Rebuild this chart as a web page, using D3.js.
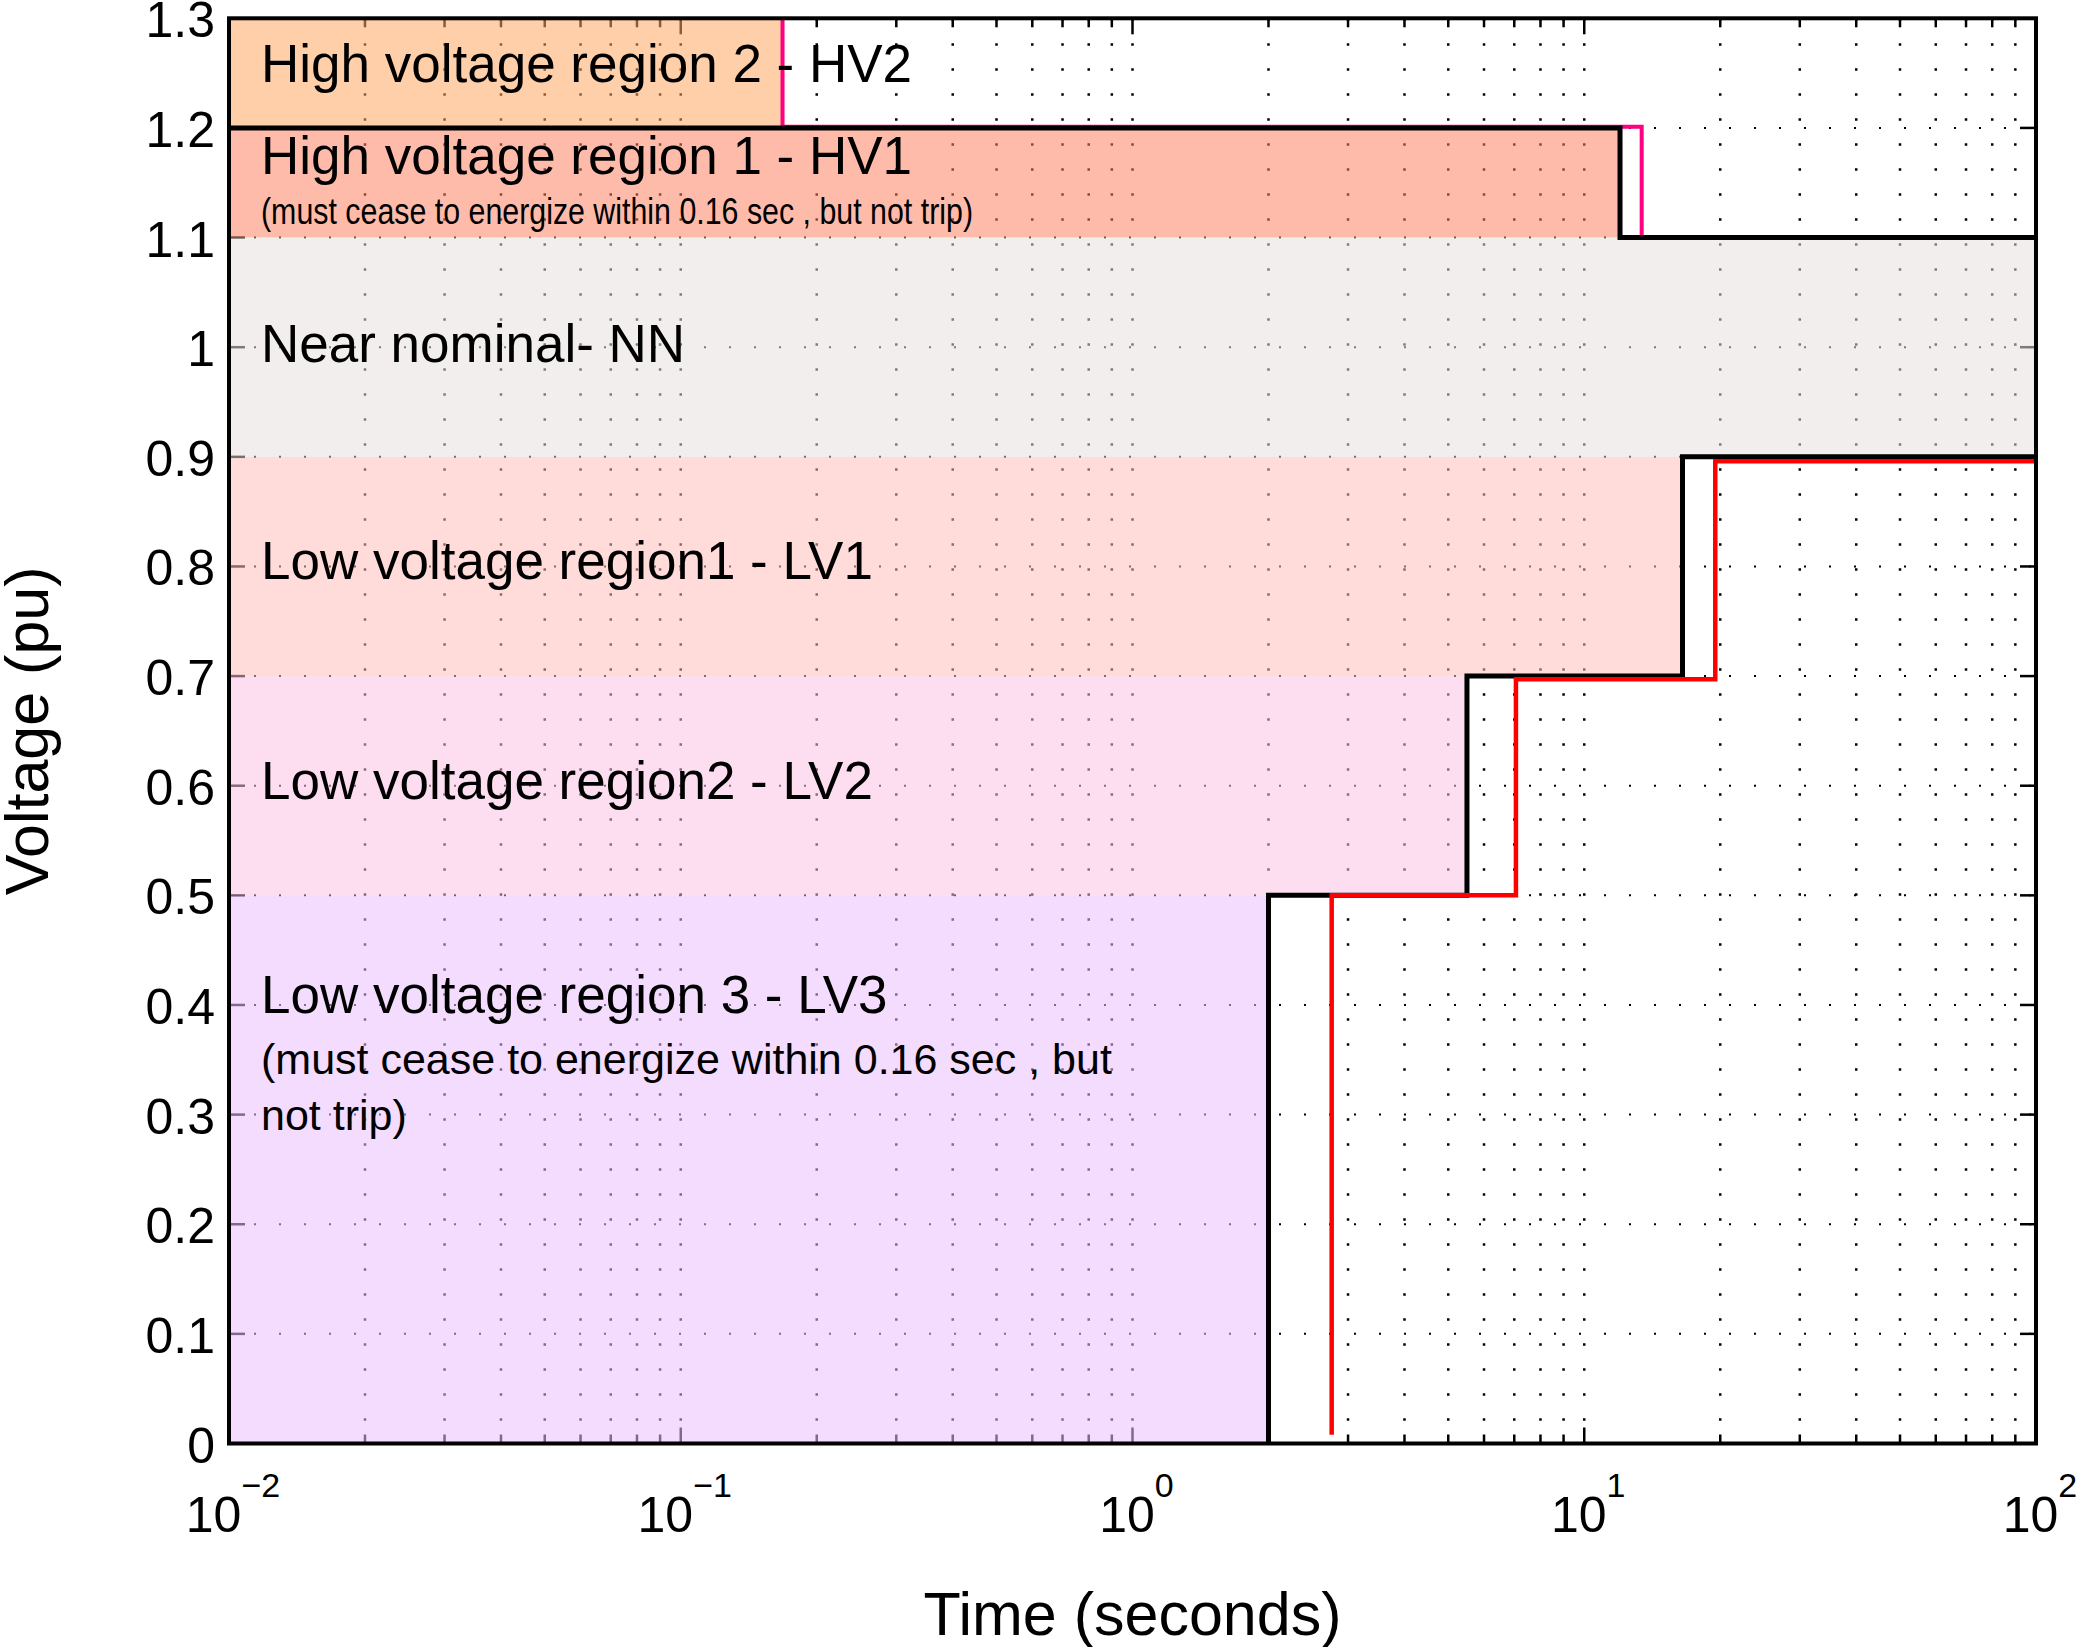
<!DOCTYPE html>
<html>
<head>
<meta charset="utf-8">
<script src="https://cdn.jsdelivr.net/npm/d3@7"></script>
<style>
  body { margin: 0; background: #fff; }
  text { font-family: "Liberation Sans", Arial, sans-serif; fill: #000; }
</style>
</head>
<body>
<div id="chart"></div>
<script>
const svgWidth = 2076,
    svgHeight = 1647,
    plot = { left: 229, right: 2036, top: 18.3, bottom: 1443.5 };

// y axis
const yTicks = [0, 0.1, 0.2, 0.3, 0.4, 0.5, 0.6, 0.7, 0.8, 0.9, 1, 1.1, 1.2, 1.3];
const yTickLabels = ["0", "0.1", "0.2", "0.3", "0.4", "0.5", "0.6", "0.7", "0.8", "0.9", "1", "1.1", "1.2", "1.3"];
// x axis (log)
const xDecades = [0.01, 0.1, 1, 10, 100];
const xExponents = ["\u22122", "\u22121", "0", "1", "2"];

// regions
const regionNames = ["High voltage region 2 - HV2", "High voltage region 1 - HV1", "Near nominal- NN",
    "Low voltage region1 - LV1", "Low voltage region2 - LV2", "Low voltage region 3 - LV3"];
const regionTEnd = [0.168, 12, 100, 16.5, 5.5, 2];
const regionVLow = [1.2, 1.1, 0.9, 0.7, 0.5, 0];
const regionVHigh = [1.3, 1.2, 1.1, 0.9, 0.7, 0.5];
const labelV = [1.259, 1.175, 1.004, 0.806, 0.605, 0.41];
// underlying colours, drawn at 0.55 opacity over the grid
const regionColors = ["#FFA864", "#FF8364", "#E7E0DE", "#FFBFBC", "#FBC1E4", "#E9BFFB"];

const hv1Note = "(must cease to energize within 0.16 sec , but not trip)";
const lv3Note = ["(must cease to energize within 0.16 sec , but", "not trip)"];

// boundary step lines
const lowBlackT = [2, 2, 5.5, 5.5, 16.5, 16.5, 100];
const lowBlackV = [0, 0.5, 0.5, 0.7, 0.7, 0.9, 0.9];
const lowRedT = [2.76, 2.76, 7.06, 7.06, 19.5, 19.5, 100];
const lowRedV = [0.008, 0.5, 0.5, 0.697, 0.697, 0.896, 0.896];
const highBlackT = [0.01, 12, 12, 100];
const highBlackV = [1.2, 1.2, 1.1, 1.1];
const highPinkT = [0.168, 0.168, 13.4, 13.4];
const highPinkV = [1.3, 1.201, 1.201, 1.1];

let svg = d3.select("#chart").append("svg")
    .attr("width", svgWidth)
    .attr("height", svgHeight);

let x = d3.scaleLog().domain([0.01, 100]).range([plot.left, plot.right]),
    y = d3.scaleLinear().domain([0, 1.3]).range([plot.bottom, plot.top]);

let xMinor = x.ticks();

// grid (dotted)
svg.append("g").selectAll("line")
    .data(xMinor)
    .join("line")
    .attr("x1", (d) => x(d)).attr("x2", (d) => x(d))
    .attr("y1", plot.top).attr("y2", plot.bottom)
    .attr("stroke", "#000").attr("stroke-width", 2.5)
    .attr("stroke-dasharray", "2.5,22.5");
svg.append("g").selectAll("line")
    .data(yTicks)
    .join("line")
    .attr("x1", plot.left).attr("x2", plot.right)
    .attr("y1", (d) => y(d)).attr("y2", (d) => y(d))
    .attr("stroke", "#000").attr("stroke-width", 2)
    .attr("stroke-dasharray", "2,23");

// ticks, inward on all sides
let ticks = svg.append("g").attr("stroke", "#000").attr("stroke-width", 2.5);
xMinor.forEach((d) => {
    let len = xDecades.includes(d) ? 16 : 9;
    ticks.append("line").attr("x1", x(d)).attr("x2", x(d)).attr("y1", plot.bottom).attr("y2", plot.bottom - len);
    ticks.append("line").attr("x1", x(d)).attr("x2", x(d)).attr("y1", plot.top).attr("y2", plot.top + len);
});
yTicks.forEach((d) => {
    ticks.append("line").attr("x1", plot.left).attr("x2", plot.left + 16).attr("y1", y(d)).attr("y2", y(d));
    ticks.append("line").attr("x1", plot.right).attr("x2", plot.right - 16).attr("y1", y(d)).attr("y2", y(d));
});

// region fills
svg.append("g").selectAll("rect")
    .data(regionNames)
    .join("rect")
    .attr("x", x(0.01))
    .attr("y", (d, i) => y(regionVHigh[i]))
    .attr("width", (d, i) => x(regionTEnd[i]) - x(0.01))
    .attr("height", (d, i) => y(regionVLow[i]) - y(regionVHigh[i]))
    .attr("fill", (d, i) => regionColors[i])
    .attr("fill-opacity", 0.55);

// step lines
function drawStep(ts, vs, color, w) {
    svg.append("path")
        .datum(ts.map((t, i) => [t, vs[i]]))
        .attr("fill", "none")
        .attr("stroke", color)
        .attr("stroke-width", w)
        .attr("stroke-linejoin", "miter")
        .attr("d", d3.line().x((d) => x(d[0])).y((d) => y(d[1])));
}
drawStep(highPinkT, highPinkV, "#FF0080", 4);
drawStep(highBlackT, highBlackV, "#000", 5);
drawStep(lowBlackT, lowBlackV, "#000", 5);
drawStep(lowRedT, lowRedV, "#FF0000", 4.5);

// axes box
svg.append("rect")
    .attr("x", plot.left).attr("y", plot.top)
    .attr("width", plot.right - plot.left).attr("height", plot.bottom - plot.top)
    .attr("fill", "none").attr("stroke", "#000").attr("stroke-width", 4);

// region labels
let labelX = x(0.01) + 32;
svg.append("g").selectAll("text")
    .data(regionNames)
    .join("text")
    .attr("x", labelX)
    .attr("y", (d, i) => y(labelV[i]))
    .attr("dy", "0.36em")
    .attr("font-size", 53)
    .text((d) => d);

svg.append("text")
    .attr("x", labelX)
    .attr("y", y(labelV[1]) + 69)
    .attr("font-size", 36)
    .attr("textLength", 712)
    .attr("lengthAdjust", "spacingAndGlyphs")
    .text(hv1Note);

svg.append("g").selectAll("text")
    .data(lv3Note)
    .join("text")
    .attr("x", labelX)
    .attr("y", (d, i) => y(labelV[5]) + 80 + i * 56)
    .attr("font-size", 43)
    .text((d) => d);

// y tick labels
svg.append("g").selectAll("text")
    .data(yTicks)
    .join("text")
    .attr("x", plot.left - 14)
    .attr("y", (d) => y(d))
    .attr("dy", "0.38em")
    .attr("text-anchor", "end")
    .attr("font-size", 50)
    .text((d, i) => yTickLabels[i]);

// x tick labels: 10^k
let xLabels = svg.append("g").selectAll("text")
    .data(xDecades)
    .join("text")
    .attr("x", (d) => x(d) + 4)
    .attr("y", plot.bottom + 88)
    .attr("text-anchor", "middle")
    .attr("font-size", 50);
xLabels.append("tspan").text("10");
xLabels.append("tspan")
    .attr("dy", -35)
    .attr("font-size", 34)
    .text((d, i) => xExponents[i]);

// axis titles
svg.append("text")
    .attr("x", (plot.left + plot.right) / 2)
    .attr("y", 1635)
    .attr("text-anchor", "middle")
    .attr("font-size", 61)
    .text("Time (seconds)");
svg.append("text")
    .attr("transform", `translate(48, ${(plot.top + plot.bottom) / 2}) rotate(-90)`)
    .attr("text-anchor", "middle")
    .attr("font-size", 61)
    .text("Voltage (pu)");
</script>
</body>
</html>
